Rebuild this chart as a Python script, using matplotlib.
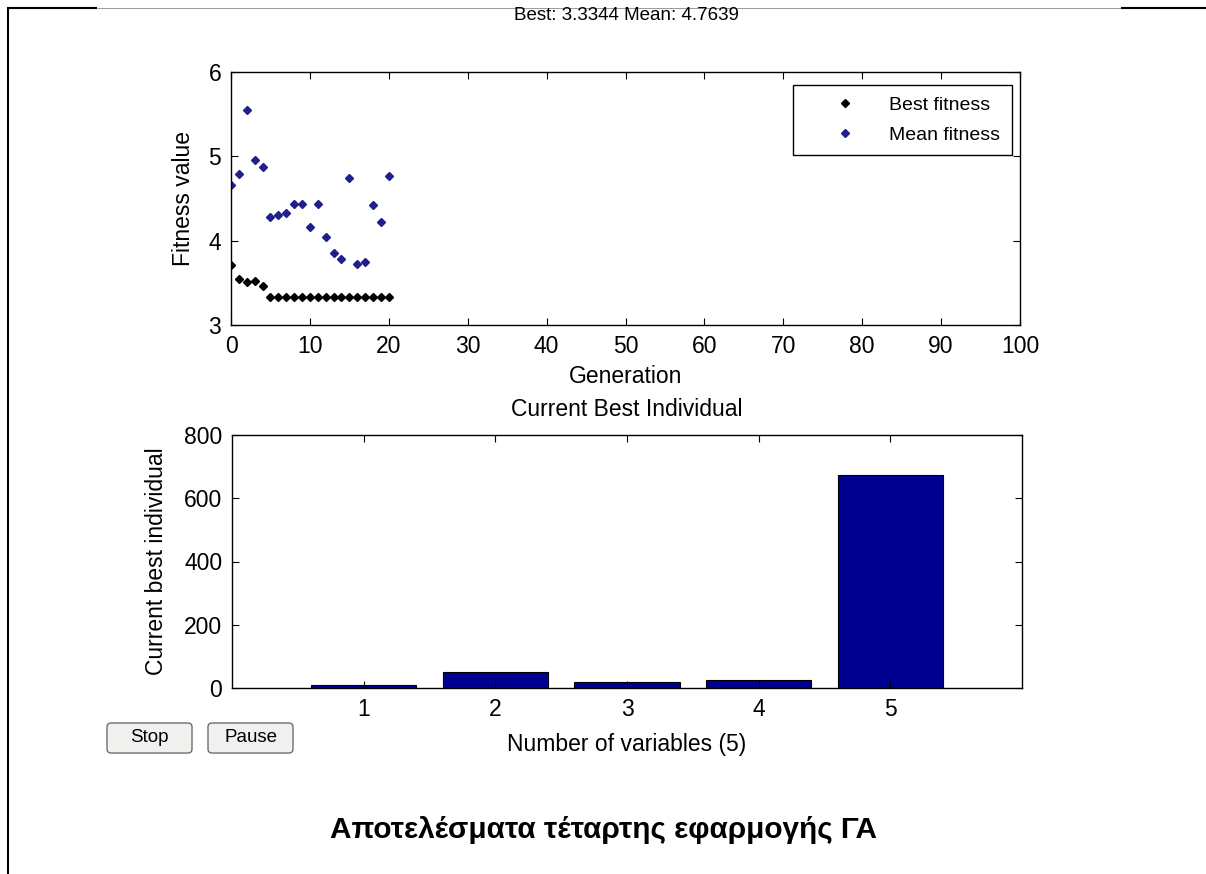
import matplotlib
matplotlib.use("Agg")
import matplotlib.pyplot as plt
from matplotlib.lines import Line2D
from matplotlib.patches import FancyBboxPatch

plt.rcParams['font.family'] = ['Liberation Sans', 'DejaVu Sans']

# Genetic algorithm progress per generation
generations = [0, 1, 2, 3, 4, 5, 6, 7, 8, 9, 10,
               11, 12, 13, 14, 15, 16, 17, 18, 19, 20]
best_fitness = [3.706, 3.548, 3.508, 3.516, 3.460,
                3.3344, 3.3344, 3.3344, 3.3344, 3.3344, 3.3344,
                3.3344, 3.3344, 3.3344, 3.3344, 3.3344, 3.3344,
                3.3344, 3.3344, 3.3344, 3.3344]
mean_fitness = [4.655, 4.786, 5.544, 4.960, 4.877, 4.286, 4.310, 4.325,
                4.437, 4.437, 4.159, 4.437, 4.048, 3.853, 3.786, 4.742,
                3.718, 3.742, 4.417, 4.222, 4.7639]

# Current best individual (one value per variable)
variables = [1, 2, 3, 4, 5]
best_individual = [8, 50, 19, 24, 675]

W, H = 1206, 874
fig = plt.figure(figsize=(W / 100, H / 100), dpi=100)
fig.patch.set_facecolor('white')


def fig_rect(left, top, right, bottom):
    return [left / W, 1 - bottom / H, (right - left) / W, (bottom - top) / H]


FS = 16.5
MEAN_COLOR = '#20208c'
BAR_COLOR = '#000090'

# ---- fitness plot ----
ax1 = fig.add_axes(fig_rect(231, 72, 1020, 325))
ax1.plot(generations, best_fitness, linestyle='none', marker='D', ms=4.5,
         color='black', label='Best fitness')
ax1.plot(generations, mean_fitness, linestyle='none', marker='D', ms=4.5,
         color=MEAN_COLOR, label='Mean fitness')
ax1.set_xlim(0, 100)
ax1.set_ylim(3, 6)
ax1.set_xticks(range(0, 101, 10))
ax1.set_yticks([3, 4, 5, 6])
ax1.set_xlabel('Generation', fontsize=FS, labelpad=5)
ax1.set_ylabel('Fitness value', fontsize=FS, va='center')
ax1.yaxis.set_label_coords(-0.0596, 0.5)
leg = ax1.legend(loc='upper right', bbox_to_anchor=(0.99, 0.9486),
                 fancybox=False, edgecolor='black', framealpha=1,
                 fontsize=14, handlelength=4.1, handletextpad=0.25,
                 borderpad=0.6, labelspacing=0.6, borderaxespad=0)
leg.get_frame().set_linewidth(1.0)

fig.text(626 / W, 1 - 15 / H,
         f'Best: {best_fitness[-1]:.4f} Mean: {mean_fitness[-1]:.4f}',
         ha='center', va='center', fontsize=13.5)

# ---- current best individual ----
ax2 = fig.add_axes(fig_rect(232, 435, 1022, 688))
ax2.bar(variables, best_individual, width=0.8, color=BAR_COLOR,
        edgecolor='black', linewidth=0.8)
ax2.set_xlim(0, 6)
ax2.set_ylim(0, 800)
ax2.set_xticks(variables)
ax2.set_yticks([0, 200, 400, 600, 800])
ax2.set_xlabel('Number of variables (5)', fontsize=FS, labelpad=9)
ax2.set_ylabel('Current best individual', fontsize=FS, va='center')
ax2.yaxis.set_label_coords(-0.095, 0.5)
ax2.set_title('Current Best Individual', fontsize=FS, pad=14)

for ax in (ax1, ax2):
    ax.tick_params(direction='in', top=True, right=True, length=5,
                   width=0.8, labelsize=FS, pad=7)
    for s in ax.spines.values():
        s.set_linewidth(1.0)

# ---- buttons ----
inch = fig.dpi_scale_trans


def button(left, top, right, bottom, label):
    box = FancyBboxPatch((left / 100, (H - bottom) / 100),
                         (right - left) / 100, (bottom - top) / 100,
                         boxstyle='round,pad=0,rounding_size=0.04',
                         transform=inch, facecolor='#f0f0ee',
                         edgecolor='#6f6f6f', linewidth=1.0)
    fig.add_artist(box)
    fig.text((left + right) / 2 / W, 1 - (top + bottom) / 2 / H, label,
             ha='center', va='center', fontsize=13.5)


button(107, 723, 192, 753, 'Stop')
button(208, 723, 293, 753, 'Pause')

# ---- page frame ----
def hline(x0, x1, y, lw, color):
    fig.add_artist(Line2D([x0 / 100, x1 / 100], [(H - y) / 100] * 2,
                          transform=inch, lw=lw, color=color,
                          solid_capstyle='butt'))


hline(7, 97, 7.5, 1.5, 'black')
hline(97, 1121, 7.5, 0.7, '#9a9a9a')
hline(1121, 1206, 7.5, 1.5, 'black')
fig.add_artist(Line2D([7.5 / 100] * 2, [(H - 7) / 100, 0], transform=inch,
                      lw=1.5, color='black', solid_capstyle='butt'))

# ---- caption ----
fig.text(603 / W, 1 - 830 / H, 'Αποτελέσματα τέταρτης εφαρμογής ΓΑ',
         ha='center', va='center', fontsize=21.4, fontweight='bold')

fig.savefig('out.png', dpi=100, facecolor='white')
